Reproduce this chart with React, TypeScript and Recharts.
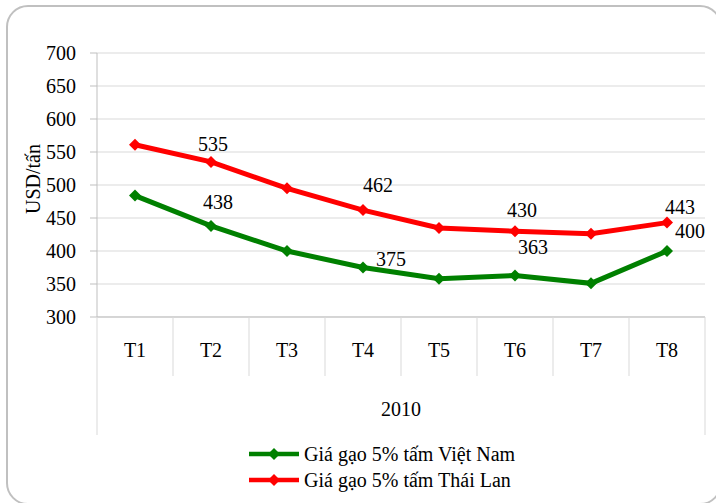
import { LineChart, Line, XAxis, YAxis, CartesianGrid, LabelList } from "recharts";

const months = ["T1", "T2", "T3", "T4", "T5", "T6", "T7", "T8"];
const vietnamPrice = [484, 438, 400, 375, 358, 363, 351, 400];
const thailandPrice = [561, 535, 495, 462, 435, 430, 426, 443];
const yTicks = [300, 350, 400, 450, 500, 550, 600, 650, 700];
const yearLabel = "2010";
const vietnamName = "Giá gạo 5% tấm Việt Nam";
const thailandName = "Giá gạo 5% tấm Thái Lan";

// only every other point carries a value label, nudged like the original
const vnLabelOffset: Record<number, [number, number]> = { 1: [7, -24], 3: [28, -9], 5: [18, -28], 7: [23, -20] };
const thLabelOffset: Record<number, [number, number]> = { 1: [2, -18], 3: [15, -25], 5: [7, -21], 7: [13, -16] };

const data = months.map((month, i) => ({ month, vn: vietnamPrice[i], th: thailandPrice[i] }));

const W = 716;
const H = 503;
const margin = { top: 53, right: 11, bottom: 68, left: 7 };
const Y_AXIS_W = 90;
const X_AXIS_H = 118;
const PLOT_LEFT = margin.left + Y_AXIS_W;
const PLOT_RIGHT = W - margin.right;
const PLOT_BOTTOM = H - margin.bottom - X_AXIS_H;
const HALF_BAND = (PLOT_RIGHT - PLOT_LEFT) / months.length / 2;

const FONT = "'Liberation Serif', 'Times New Roman', serif";
const textStyle = { fontFamily: FONT, fontSize: 20 };
const AXIS = "#bfbfbf";
const GRID = "#d9d9d9";
const GREEN = "#008000";
const RED = "#ff0000";

const Diamond = ({ cx, cy, fill }: any) => {
  if (cx == null || cy == null) return null;
  const r = 6;
  return <polygon points={`${cx},${cy - r} ${cx + r},${cy} ${cx},${cy + r} ${cx - r},${cy}`} fill={fill} />;
};

const makeLabel = (offsets: Record<number, [number, number]>) => (props: any) => {
  const { x, y, value, index } = props;
  const off = offsets[index];
  if (!off) return null;
  return (
    <text x={x + off[0]} y={y + off[1]} textAnchor="middle" dominantBaseline="central" style={textStyle} fill="#000">
      {value}
    </text>
  );
};

const CategoryTick = ({ x, index, payload }: any) => {
  const last = months.length - 1;
  return (
    <g>
      <text x={x} y={PLOT_BOTTOM + 33} textAnchor="middle" dominantBaseline="central" style={textStyle} fill="#000">
        {payload.value}
      </text>
      {index < last && <line x1={x + HALF_BAND} x2={x + HALF_BAND} y1={PLOT_BOTTOM} y2={PLOT_BOTTOM + 59} stroke={GRID} />}
      {index === 0 && <line x1={x - HALF_BAND} x2={x - HALF_BAND} y1={PLOT_BOTTOM} y2={PLOT_BOTTOM + X_AXIS_H} stroke={GRID} />}
      {index === last && <line x1={x + HALF_BAND} x2={x + HALF_BAND} y1={PLOT_BOTTOM} y2={PLOT_BOTTOM + X_AXIS_H} stroke={GRID} />}
    </g>
  );
};

const ValueTick = ({ x, y, payload }: any) => (
  <text x={x} y={y} textAnchor="end" dominantBaseline="central" style={textStyle} fill="#000">
    {payload.value}
  </text>
);

const LegendRow = ({ color, name }: { color: string; name: string }) => (
  <div style={{ display: "flex", alignItems: "center", height: 26 }}>
    <svg width={52} height={14}>
      <line x1={1} x2={51} y1={7} y2={7} stroke={color} strokeWidth={4.5} />
      <Diamond cx={26} cy={7} fill={color} />
    </svg>
    <span style={{ marginLeft: 4, fontSize: 20, fontFamily: FONT, color: "#000", lineHeight: "26px" }}>{name}</span>
  </div>
);

export default function App() {
  return (
    <div style={{ position: "absolute", left: 0, top: 0, width: W, height: H, overflow: "hidden", background: "#fff" }}>
      <div
        style={{
          position: "absolute",
          left: 6,
          top: 5,
          width: 716,
          height: 500,
          border: "2px solid #c0c0c0",
          borderRadius: 22,
          boxSizing: "border-box",
        }}
      />
      <div style={{ position: "absolute", left: 0, top: 0 }}>
        <LineChart width={W} height={H} data={data} margin={margin} style={{ fontFamily: FONT }}>
          <CartesianGrid vertical={false} stroke={GRID} />
          <XAxis
            dataKey="month"
            height={X_AXIS_H}
            interval={0}
            padding={{ left: HALF_BAND, right: HALF_BAND }}
            tickLine={false}
            axisLine={{ stroke: AXIS }}
            tick={<CategoryTick />}
            label={() => (
              <text x={(PLOT_LEFT + PLOT_RIGHT) / 2} y={PLOT_BOTTOM + 92} textAnchor="middle" dominantBaseline="central" style={textStyle} fill="#000">
                {yearLabel}
              </text>
            )}
          />
          <YAxis
            width={Y_AXIS_W}
            domain={[300, 700]}
            ticks={yTicks}
            interval={0}
            tickSize={7}
            tickMargin={14}
            tickLine={{ stroke: AXIS }}
            axisLine={{ stroke: AXIS }}
            tick={<ValueTick />}
            label={() => {
              const cx = margin.left + 26;
              const cy = (margin.top + PLOT_BOTTOM) / 2 - 6;
              return (
                <text x={cx} y={cy} transform={`rotate(-90, ${cx}, ${cy})`} textAnchor="middle" dominantBaseline="central" style={textStyle} fill="#000">
                  USD/tấn
                </text>
              );
            }}
          />
          <Line
            dataKey="vn"
            name={vietnamName}
            stroke={GREEN}
            strokeWidth={5}
            dot={<Diamond fill={GREEN} />}
            activeDot={false}
            isAnimationActive={false}
          >
            <LabelList dataKey="vn" content={makeLabel(vnLabelOffset)} />
          </Line>
          <Line
            dataKey="th"
            name={thailandName}
            stroke={RED}
            strokeWidth={5}
            dot={<Diamond fill={RED} />}
            activeDot={false}
            isAnimationActive={false}
          >
            <LabelList dataKey="th" content={makeLabel(thLabelOffset)} />
          </Line>
        </LineChart>
      </div>
      <div style={{ position: "absolute", left: 248, top: 441 }}>
        <LegendRow color={GREEN} name={vietnamName} />
        <LegendRow color={RED} name={thailandName} />
      </div>
    </div>
  );
}
